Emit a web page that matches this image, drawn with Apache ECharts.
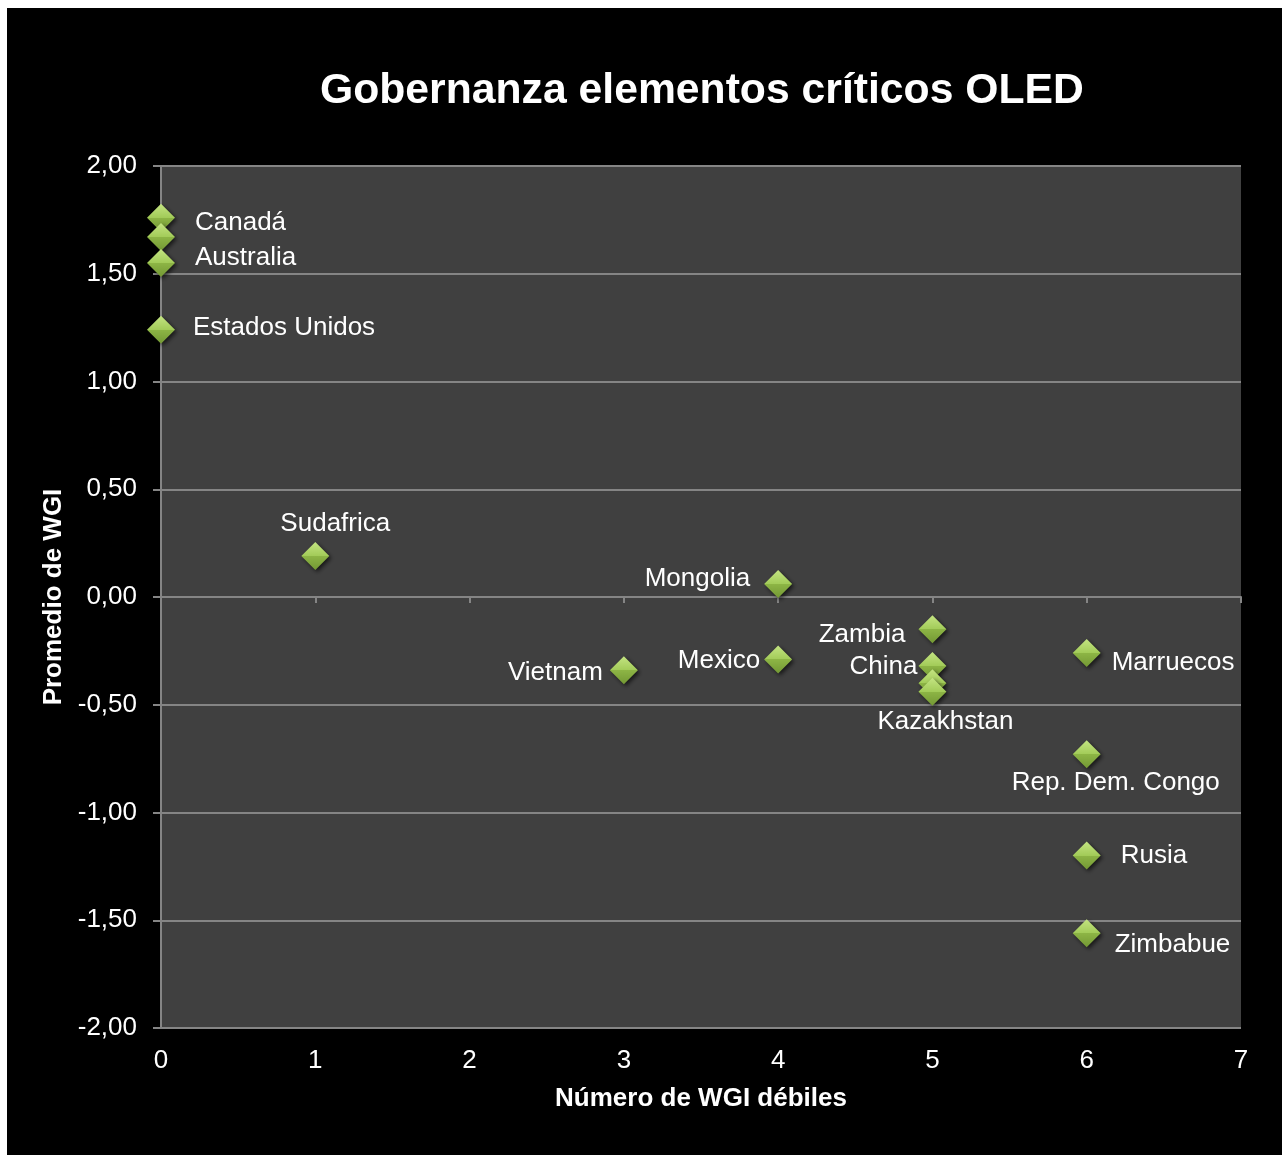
<!DOCTYPE html>
<html>
<head>
<meta charset="utf-8">
<title>Gobernanza elementos críticos OLED</title>
<script src="https://cdn.jsdelivr.net/npm/echarts@6/dist/echarts.min.js"></script>
<style>
  html, body { margin: 0; padding: 0; background: #ffffff; }
  #chart { position: absolute; left: 7px; top: 8px; width: 1275px; height: 1147px; background: #000000; }
</style>
</head>
<body>
<div id="chart"></div>
<script>
// Número de WGI débiles (x) y promedio de WGI (y) por país
const countries = ['Canadá', '', 'Australia', 'Estados Unidos', 'Sudafrica', 'Mongolia', 'Vietnam',
  'Mexico', 'Zambia', 'China', '', 'Kazakhstan', 'Marruecos', 'Rep. Dem. Congo', 'Rusia', 'Zimbabue'];
const weakWgi = [0, 0, 0, 0, 1, 4, 3, 4, 5, 5, 5, 5, 6, 6, 6, 6];
const avgWgi = [1.76, 1.67, 1.55, 1.24, 0.19, 0.06, -0.34, -0.29, -0.15, -0.32, -0.40, -0.44,
  -0.26, -0.73, -1.20, -1.56];

// Colocación de cada etiqueta respecto a su marcador
const labelPlacement = [
  { position: 'right', distance: 20, offset: [0, 5] },
  { position: 'right', distance: 20, offset: [0, 0] },
  { position: 'right', distance: 20, offset: [0, -5] },
  { position: 'right', distance: 18, offset: [0, -2] },
  { position: 'top', distance: 5, offset: [20, 0] },
  { position: 'left', distance: 14, offset: [0, -5] },
  { position: 'left', distance: 7, offset: [0, 3] },
  { position: 'left', distance: 4, offset: [0, 1] },
  { position: 'left', distance: 13, offset: [0, 6] },
  { position: 'left', distance: 1, offset: [0, 1] },
  { position: 'left', distance: 1, offset: [0, 0] },
  { position: 'bottom', distance: 3, offset: [13, 0] },
  { position: 'right', distance: 11, offset: [0, 10] },
  { position: 'bottom', distance: 2, offset: [29, 0] },
  { position: 'right', distance: 20, offset: [0, 0] },
  { position: 'right', distance: 14, offset: [0, 12] }
];

const FONT = "'Liberation Sans', Arial, sans-serif";
const GRID_GRAY = '#858585';

const points = weakWgi.map((x, i) => ({
  value: [x, avgWgi[i]],
  name: countries[i],
  label: Object.assign({ show: countries[i] !== '' }, labelPlacement[i])
}));

const diamondFill = {
  type: 'linear', x: 0, y: 0, x2: 0, y2: 1,
  colorStops: [
    { offset: 0, color: '#c4e482' },
    { offset: 0.5, color: '#a2cb58' },
    { offset: 0.5, color: '#8db545' },
    { offset: 1, color: '#739834' }
  ]
};

const chart = echarts.init(document.getElementById('chart'), null, { renderer: 'canvas' });
chart.setOption({
  backgroundColor: '#000000',
  animation: false,
  title: {
    text: 'Gobernanza elementos críticos OLED',
    left: 313,
    top: 62,
    padding: 0,
    textStyle: { color: '#ffffff', fontSize: 42.7, fontWeight: 'bold', fontFamily: FONT }
  },
  grid: {
    left: 154, top: 158, right: 41, bottom: 127,
    show: true, backgroundColor: '#404040', borderWidth: 0
  },
  xAxis: [
    {
      type: 'value', min: 0, max: 7, interval: 1, position: 'bottom',
      name: 'Número de WGI débiles', nameLocation: 'middle', nameGap: 58,
      nameTextStyle: { color: '#ffffff', fontSize: 26, fontWeight: 'bold', fontFamily: FONT },
      axisLine: { show: false, onZero: false },
      axisTick: { show: false },
      splitLine: { show: false },
      axisLabel: { color: '#ffffff', fontSize: 26, fontFamily: FONT, margin: 20 }
    },
    {
      type: 'value', min: 0, max: 7, interval: 1, position: 'bottom',
      axisLine: { show: true, onZero: true, lineStyle: { color: GRID_GRAY, width: 2 } },
      axisTick: { show: true, inside: false, length: 6, lineStyle: { color: GRID_GRAY, width: 2 } },
      splitLine: { show: false },
      axisLabel: { show: false }
    }
  ],
  yAxis: {
    type: 'value', min: -2, max: 2, interval: 0.5,
    name: 'Promedio de WGI', nameLocation: 'middle', nameGap: 94,
    nameTextStyle: { color: '#ffffff', fontSize: 26, fontWeight: 'bold', fontFamily: FONT },
    axisLine: { show: true, lineStyle: { color: GRID_GRAY, width: 2 } },
    axisTick: { show: true, inside: false, length: 8, lineStyle: { color: GRID_GRAY, width: 2 } },
    splitLine: { show: true, lineStyle: { color: GRID_GRAY, width: 2 } },
    axisLabel: {
      color: '#ffffff', fontSize: 26, fontFamily: FONT, margin: 24,
      formatter: v => v.toFixed(2).replace('.', ',')
    }
  },
  series: [{
    type: 'scatter',
    xAxisIndex: 0,
    symbol: 'diamond',
    symbolSize: [28, 28],
    data: points,
    itemStyle: {
      color: diamondFill,
      opacity: 1,
      shadowBlur: 4, shadowOffsetX: 2, shadowOffsetY: 2, shadowColor: 'rgba(0,0,0,0.65)'
    },
    label: {
      formatter: p => p.name,
      color: '#ffffff', fontSize: 26, fontFamily: FONT
    },
    emphasis: { disabled: true }
  }]
});
</script>
</body>
</html>
